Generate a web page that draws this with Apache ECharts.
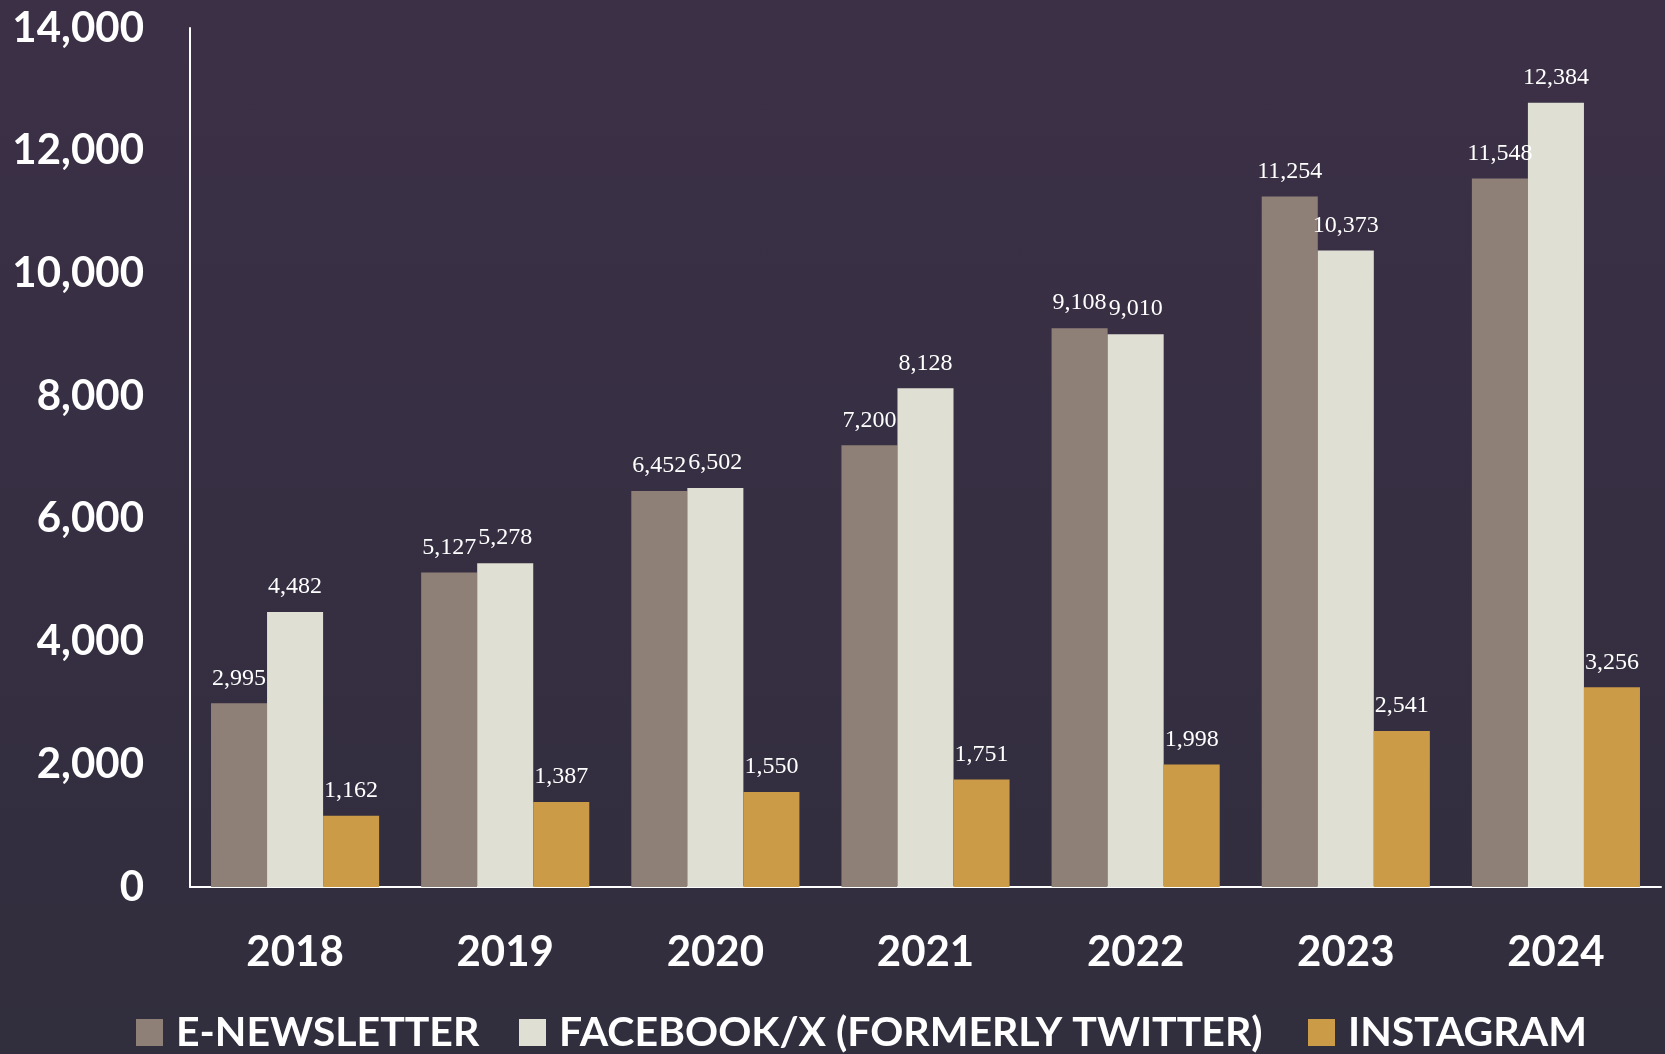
<!DOCTYPE html>
<html>
<head>
<meta charset="utf-8">
<script src="https://cdn.jsdelivr.net/npm/echarts@6/dist/echarts.min.js"></script>
<style>
html,body{margin:0;padding:0;width:1665px;height:1054px;overflow:hidden;
background:linear-gradient(180deg,#3c3046 0%,#372f43 40%,#312e3d 100%);}
#c{width:1665px;height:1054px;}
</style>
</head>
<body>
<div id="c"></div>
<script>
const years = ['2018','2019','2020','2021','2022','2023','2024'];
const seriesNames = ['E-NEWSLETTER','FACEBOOK/X (FORMERLY TWITTER)','INSTAGRAM'];
const eNewsletter = [2995, 5127, 6452, 7200, 9108, 11254, 11548];
// bar heights as drawn in the picture (2024 bar is drawn taller than its label)
const facebookX = [4482, 5278, 6502, 8128, 9010, 10373, 12780];
// printed data labels
const facebookXLabels = [4482, 5278, 6502, 8128, 9010, 10373, 12384];
const instagram = [1162, 1387, 1550, 1751, 1998, 2541, 3256];
const colors = ['#8f8077', '#e0dfd3', '#cc9b47'];

const fmt = v => Number(v).toLocaleString('en-US');
const chart = echarts.init(document.getElementById('c'), null, {renderer:'canvas'});

const labelBase = {
  show: true, position: 'top', distance: 13,
  color: '#ffffff', fontFamily: 'Liberation Serif, DejaVu Serif, serif', fontSize: 24
};
const legendCommon = {
  bottom: 1, padding: 0, itemWidth: 27, itemHeight: 27, icon: 'rect',
  textStyle: {color:'#ffffff', fontFamily:'Lato', fontWeight:'bold', fontSize:41, padding:[0,0,0,8]}
};

chart.setOption({
  backgroundColor: 'transparent',
  animation: false,
  grid: {left: 190, right: 4, top: 28, bottom: 167, containLabel: false},
  legend: [
    Object.assign({left: 136, data: [seriesNames[0]]}, legendCommon),
    Object.assign({left: 519, data: [seriesNames[1]]}, legendCommon),
    Object.assign({left: 1308, data: [seriesNames[2]]}, legendCommon)
  ],
  xAxis: {
    type: 'category', data: years,
    axisLine: {show: true, lineStyle: {color: '#ffffff', width: 2}},
    axisTick: {show: false},
    axisLabel: {color: '#ffffff', fontFamily: 'Lato', fontWeight: 'bold', fontSize: 42, margin: 44}
  },
  yAxis: {
    type: 'value', min: 0, max: 14000, interval: 2000,
    axisLine: {show: true, lineStyle: {color: '#ffffff', width: 2}},
    axisTick: {show: false},
    splitLine: {show: false},
    axisLabel: {color: '#ffffff', fontFamily: 'Lato', fontWeight: 'bold', fontSize: 42, margin: 46, formatter: v => fmt(v)}
  },
  series: [
    {name: seriesNames[0], type: 'bar', data: eNewsletter, barGap: '0%', barCategoryGap: '20%',
     itemStyle: {color: colors[0]}, label: Object.assign({formatter: p => fmt(p.value)}, labelBase)},
    {name: seriesNames[1], type: 'bar', data: facebookX, barGap: '0%', barCategoryGap: '20%',
     itemStyle: {color: colors[1]}, label: Object.assign({formatter: p => fmt(facebookXLabels[p.dataIndex])}, labelBase)},
    {name: seriesNames[2], type: 'bar', data: instagram, barGap: '0%', barCategoryGap: '20%',
     itemStyle: {color: colors[2]}, label: Object.assign({formatter: p => fmt(p.value)}, labelBase)}
  ]
});
</script>
</body>
</html>
